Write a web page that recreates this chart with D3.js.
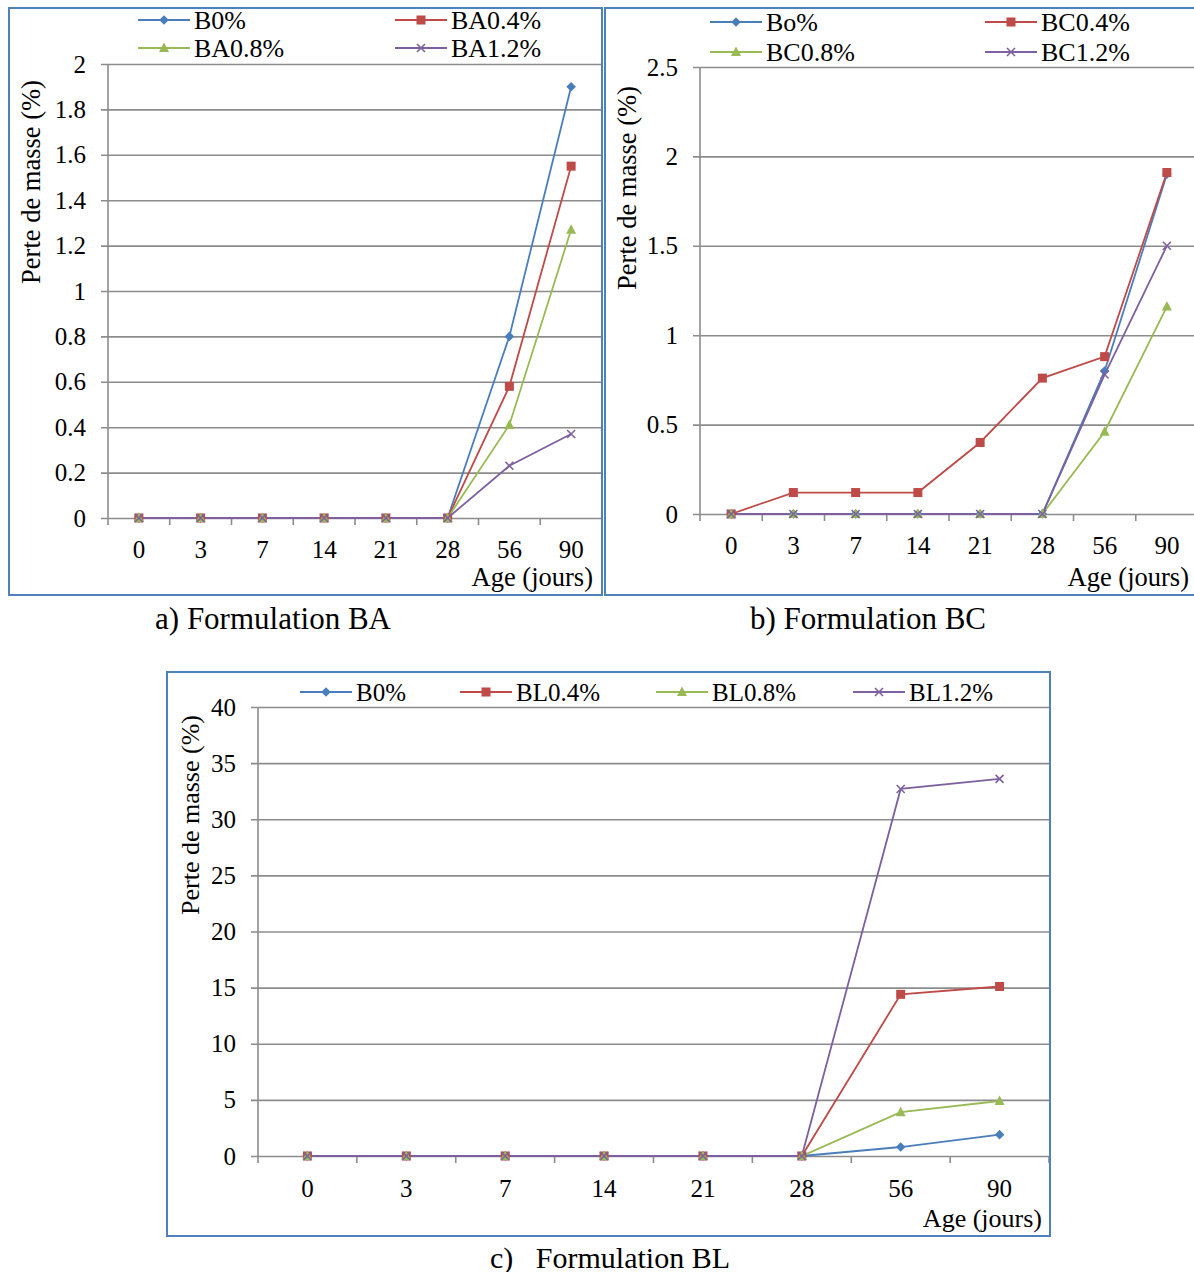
<!DOCTYPE html>
<html>
<head>
<meta charset="utf-8">
<script src="https://cdn.jsdelivr.net/npm/d3@7/dist/d3.min.js"></script>
<style>
  html, body { margin: 0; padding: 0; background: #fff; }
  svg { display: block; }
  text { font-family: "Liberation Serif", "Times New Roman", serif; fill: #000; }
</style>
</head>
<body>
<svg id="chart" width="1194" height="1272"></svg>
<script>
// Age categories (days)
const ages = ["0", "3", "7", "14", "21", "28", "56", "90"];

// a) Formulation BA — mass loss (%)
const baNames = ["B0%", "BA0.4%", "BA0.8%", "BA1.2%"];
const baB0   = [0, 0, 0, 0, 0, 0, 0.80, 1.90];
const baA04  = [0, 0, 0, 0, 0, 0, 0.58, 1.55];
const baA08  = [0, 0, 0, 0, 0, 0, 0.41, 1.27];
const baA12  = [0, 0, 0, 0, 0, 0, 0.23, 0.37];
const baTicks = [0, 0.2, 0.4, 0.6, 0.8, 1, 1.2, 1.4, 1.6, 1.8, 2];

// b) Formulation BC
const bcNames = ["Bo%", "BC0.4%", "BC0.8%", "BC1.2%"];
const bcB0   = [0, 0, 0, 0, 0, 0, 0.80, 1.90];
const bcC04  = [0, 0.12, 0.12, 0.12, 0.40, 0.76, 0.88, 1.91];
const bcC08  = [0, 0, 0, 0, 0, 0, 0.46, 1.16];
const bcC12  = [0, 0, 0, 0, 0, 0, 0.78, 1.50];
const bcTicks = [0, 0.5, 1, 1.5, 2, 2.5];

// c) Formulation BL
const blNames = ["B0%", "BL0.4%", "BL0.8%", "BL1.2%"];
const blB0   = [0, 0, 0, 0, 0, 0, 0.8, 1.9];
const blL04  = [0, 0, 0, 0, 0, 0, 14.4, 15.1];
const blL08  = [0, 0, 0, 0, 0, 0, 3.9, 4.9];
const blL12  = [0, 0, 0, 0, 0, 0, 32.7, 33.6];
const blTicks = [0, 5, 10, 15, 20, 25, 30, 35, 40];

const yTitle = "Perte de masse (%)";
const xTitle = "Age (jours)";

const colors = ["#4a7ebb", "#be4b48", "#98b954", "#7d60a0"];
const markers = ["diamond", "square", "triangle", "cross"];
const gridColor = "#8c8c8c";
const frameColor = "#4f81bd";

const svg = d3.select("#chart");

function addText(g, x, y, str, size, anchor, rotate) {
  let tr = `translate(${x},${y})`;
  if (rotate) tr += ` rotate(${rotate})`;
  return g.append("text")
    .attr("transform", tr)
    .attr("text-anchor", anchor || "start")
    .attr("dominant-baseline", "central")
    .attr("xml:space", "preserve")
    .style("font-size", size + "px")
    .text(str);
}

function drawMarker(g, type, x, y, color) {
  const s = 4.8;
  if (type === "diamond") {
    g.append("path").attr("d", `M${x},${y - s}L${x + s},${y}L${x},${y + s}L${x - s},${y}Z`).attr("fill", color);
  } else if (type === "square") {
    g.append("rect").attr("x", x - 4.5).attr("y", y - 4.5).attr("width", 9).attr("height", 9).attr("fill", color);
  } else if (type === "triangle") {
    g.append("path").attr("d", `M${x},${y - 5.5}L${x + 5},${y + 4}L${x - 5},${y + 4}Z`).attr("fill", color);
  } else {
    g.append("path").attr("d", `M${x - 4},${y - 4}L${x + 4},${y + 4}M${x - 4},${y + 4}L${x + 4},${y - 4}`)
      .attr("stroke", color).attr("stroke-width", 1.6).attr("fill", "none");
  }
}

function drawPanel(o) {
  const g = svg.append("g");

  const x = d3.scaleBand().domain(ages).range([o.left, o.right]);
  const y = d3.scaleLinear().domain([0, o.yMax]).range([o.bottom, o.top]);

  // gridlines + y tick marks
  const yAxis = d3.axisLeft(y).tickValues(o.yTicks).tickSize(-(o.right - o.left)).tickFormat("");
  const ga = g.append("g").attr("transform", `translate(${o.left},0)`).call(yAxis);
  ga.select(".domain").remove();
  ga.selectAll(".tick line").attr("stroke", gridColor).attr("stroke-width", 1.6)
    .attr("x1", -7).attr("x2", Math.min(o.right, o.clipRight) - o.left);

  // y tick labels
  o.yTicks.forEach(v => addText(g, o.left - 22, y(v), String(v), o.tickSize, "end"));

  // vertical axis line
  g.append("line").attr("x1", o.left).attr("x2", o.left).attr("y1", o.top).attr("y2", o.bottom + 7)
    .attr("stroke", gridColor).attr("stroke-width", 1.6);

  // x tick marks at category boundaries
  ages.forEach(a => {
    const bx = x(a) + x.bandwidth();
    if (bx <= o.clipRight) {
      g.append("line").attr("x1", bx).attr("x2", bx).attr("y1", o.bottom).attr("y2", o.bottom + 7)
        .attr("stroke", gridColor).attr("stroke-width", 1.6);
    }
  });

  // x tick labels
  ages.forEach(a => addText(g, x(a) + x.bandwidth() / 2, o.bottom + o.xLabelDy, a, o.tickSize, "middle"));

  // series lines, then markers on top
  const line = d3.line().x((d, i) => x(ages[i]) + x.bandwidth() / 2).y(d => y(d));
  o.series.forEach((s, k) => {
    g.append("path").datum(s).attr("d", line).attr("fill", "none")
      .attr("stroke", colors[k]).attr("stroke-width", 1.8);
  });
  o.series.forEach((s, k) => {
    s.forEach((v, i) => drawMarker(g, markers[k], x(ages[i]) + x.bandwidth() / 2, y(v), colors[k]));
  });

  // legend
  o.names.forEach((n, k) => {
    const p = o.legend[k];
    g.append("line").attr("x1", p[0]).attr("x2", p[0] + 52).attr("y1", p[1]).attr("y2", p[1])
      .attr("stroke", colors[k]).attr("stroke-width", 2);
    drawMarker(g, markers[k], p[0] + 26, p[1], colors[k]);
    addText(g, p[0] + 56, p[1], n, o.legendSize, "start");
  });

  // axis titles
  addText(g, o.yTitlePos[0], o.yTitlePos[1], yTitle, o.titleSize, "middle", -90);
  addText(g, o.xTitlePos[0], o.xTitlePos[1], xTitle, o.titleSize, "end");

  // frame
  g.append("rect").attr("x", o.box[0]).attr("y", o.box[1]).attr("width", o.box[2]).attr("height", o.box[3])
    .attr("fill", "none").attr("stroke", frameColor).attr("stroke-width", 2);

  // caption
  addText(svg, o.caption[0], o.caption[1], o.caption[2], o.captionSize, "middle");
}

drawPanel({
  left: 108, right: 602, clipRight: 602, top: 64, bottom: 518, yMax: 2, yTicks: baTicks,
  series: [baB0, baA04, baA08, baA12], names: baNames,
  legend: [[138, 20], [395, 20], [138, 48], [395, 48]],
  tickSize: 25, legendSize: 26, titleSize: 26.5, captionSize: 31, xLabelDy: 31,
  yTitlePos: [31, 182], xTitlePos: [593, 577],
  box: [9, 8, 593, 587], caption: [273, 618, "a) Formulation BA"]
});

drawPanel({
  left: 700, right: 1198, clipRight: 1194, top: 67, bottom: 514, yMax: 2.5, yTicks: bcTicks,
  series: [bcB0, bcC04, bcC08, bcC12], names: bcNames,
  legend: [[710, 22], [985, 22], [710, 52], [985, 52]],
  tickSize: 25, legendSize: 26, titleSize: 26.5, captionSize: 31, xLabelDy: 31,
  yTitlePos: [627, 188], xTitlePos: [1189, 577],
  box: [605, 8, 592, 587], caption: [868, 618, "b) Formulation BC"]
});

drawPanel({
  left: 258, right: 1049, clipRight: 1049, top: 707, bottom: 1156, yMax: 40, yTicks: blTicks,
  series: [blB0, blL04, blL08, blL12], names: blNames,
  legend: [[300, 692], [460, 692], [656, 692], [853, 692]],
  tickSize: 25, legendSize: 25, titleSize: 26, captionSize: 30, xLabelDy: 32,
  yTitlePos: [190, 815], xTitlePos: [1042, 1218],
  box: [167, 672, 883, 564], caption: [610, 1257, "c)   Formulation BL"]
});
</script>
</body>
</html>
